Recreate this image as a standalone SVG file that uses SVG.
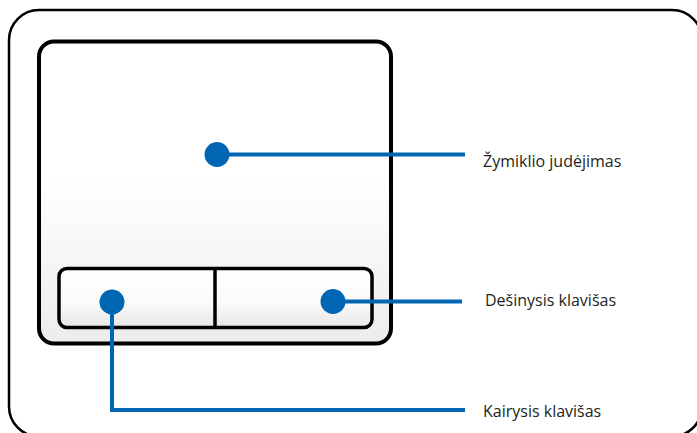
<svg xmlns="http://www.w3.org/2000/svg" width="697" height="433" viewBox="0 0 697 433">
<defs>
<linearGradient id="padGrad" x1="0" y1="0" x2="0" y2="1">
<stop offset="0" stop-color="#ffffff"/>
<stop offset="0.45" stop-color="#ffffff"/>
<stop offset="1" stop-color="#ececec"/>
</linearGradient>
<linearGradient id="btnGrad" x1="0" y1="0" x2="0" y2="1">
<stop offset="0" stop-color="#ffffff"/>
<stop offset="0.6" stop-color="#fafafa"/>
<stop offset="1" stop-color="#e6e6e6"/>
</linearGradient>
<style>
.frame{fill:#ffffff;stroke:#000000;stroke-width:2.5}
.pad{fill:url(#padGrad);stroke:#000000;stroke-width:4}
.btn{fill:url(#btnGrad);stroke:#000000;stroke-width:3.5}
.lead{fill:none;stroke:#0066b3;stroke-width:4}
.dot{fill:#0066b3}
.lbl{font-family:"Open Sans","Noto Sans",sans-serif;font-size:16px;fill:#231f20}
</style>
</defs>
<rect id="frame" class="frame" x="9" y="10" width="693" height="426.5" rx="30" ry="30"/>
<g id="touchpad">
<rect class="pad" x="39" y="41.5" width="352" height="302" rx="15" ry="15"/>
</g>
<g id="buttons">
<rect class="btn" x="59" y="268.5" width="313" height="59" rx="8" ry="8"/>
<line x1="215" y1="268.5" x2="215" y2="327.5" stroke="#000000" stroke-width="3.5"/>
</g>
<g id="connectors">
<path class="lead" d="M217 154.5 H465"/>
<path class="lead" d="M333 301.5 H462"/>
<path class="lead" d="M112 302 V410 H465"/>
</g>
<g id="dot-move"><circle class="dot" cx="217" cy="154.5" r="12.5"/></g>
<g id="dot-right"><circle class="dot" cx="333" cy="301.5" r="12.5"/></g>
<g id="dot-left"><circle class="dot" cx="112" cy="302" r="12.5"/></g>
<g id="label-move"><text class="lbl" x="483" y="166.5">Žymiklio judėjimas</text></g>
<g id="label-right"><text class="lbl" x="485" y="306">Dešinysis klavišas</text></g>
<g id="label-left"><text class="lbl" x="483" y="416.5">Kairysis klavišas</text></g>
</svg>
